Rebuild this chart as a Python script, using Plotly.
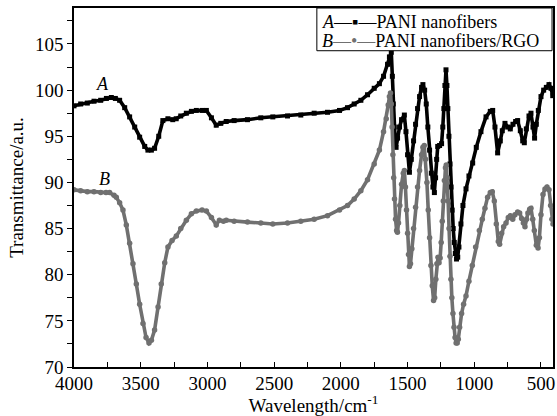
import plotly.graph_objects as go

# Series A: PANI nanofibers
wn_a = [4000, 3950, 3900, 3850, 3800, 3757, 3720, 3690, 3658, 3620, 3583, 3545, 3508, 3470, 3446, 3420, 3396,
        3365, 3334, 3296, 3260, 3234, 3200, 3158, 3120, 3083, 3040, 3008, 2970, 2934, 2900, 2859, 2800, 2700,
        2600, 2510, 2400, 2300, 2200, 2100, 2010, 1950, 1900, 1850, 1800, 1750, 1711, 1680, 1650, 1636, 1622,
        1614, 1607, 1600, 1593, 1586, 1575, 1560, 1545, 1524, 1512, 1500, 1486, 1472, 1455, 1440, 1425, 1410,
        1395, 1385, 1372, 1360, 1348, 1335, 1322, 1310, 1299, 1290, 1282, 1274, 1260, 1245, 1236, 1228, 1220,
        1212, 1205, 1198, 1190, 1182, 1174, 1166, 1158, 1150, 1142, 1133, 1124, 1115, 1100, 1085, 1062, 1040,
        1012, 985, 950, 912, 880, 862, 845, 825, 805, 790, 770, 750, 730, 710, 690, 675, 655, 637, 625, 610,
        590, 575, 560, 548, 535, 520, 500, 480, 460, 440, 425, 412]
t_a = [98.3, 98.5, 98.6, 98.8, 98.9, 99.1, 99.2, 99.1, 98.9, 98.1, 97.1, 96.0, 94.9, 93.9, 93.5, 93.5, 93.7,
       95.0, 96.7, 96.9, 96.8, 96.9, 97.2, 97.5, 97.7, 97.8, 97.8, 97.8, 97.0, 96.2, 96.4, 96.6, 96.7, 96.8,
       97.0, 97.1, 97.2, 97.3, 97.5, 97.6, 97.8, 98.1, 98.5, 98.9, 99.5, 100.2, 100.7, 101.5, 102.8, 103.6, 104.1,
       101.5, 98.5, 96.0, 94.5, 93.8, 94.8, 96.0, 96.8, 97.3, 95.5, 93.0, 91.1, 92.5, 94.5, 96.3, 98.0, 99.3,
       100.3, 100.6, 100.0, 98.5, 96.0, 93.5, 91.0, 89.5, 88.9, 90.5, 92.5, 93.9, 94.0, 94.2, 96.0, 98.0, 100.5,
       102.2, 100.5, 98.0, 95.0, 92.0, 89.5, 87.0, 85.0, 83.5, 82.3, 81.7, 81.9, 83.0, 85.5, 87.5, 89.3, 90.7,
       92.1, 93.8, 95.5, 97.1, 97.7, 97.8, 96.0, 93.2, 94.5, 95.6, 96.4, 96.0, 95.8, 96.3, 96.6, 96.7, 95.6, 94.5, 94.3, 95.8,
       97.2, 97.5, 96.0, 94.8, 96.3, 97.8, 99.3, 100.0, 100.3, 100.6, 100.2, 99.4]

# Series B: PANI nanofibers/RGO
wn_b = [4000, 3950, 3900, 3850, 3800, 3760, 3733, 3700, 3683, 3658, 3633, 3608, 3583, 3558, 3533, 3508, 3483,
        3460, 3438, 3420, 3396, 3370, 3346, 3320, 3296, 3265, 3233, 3200, 3158, 3120, 3083, 3040, 3008, 2970,
        2934, 2910, 2880, 2859, 2800, 2700, 2600, 2510, 2400, 2300, 2200, 2100, 2010, 1950, 1900, 1850, 1800,
        1750, 1711, 1680, 1660, 1645, 1636, 1628, 1622, 1616, 1610, 1604, 1598, 1590, 1582, 1576, 1568, 1558,
        1545, 1532, 1524, 1516, 1508, 1500, 1493, 1486, 1478, 1468, 1455, 1440, 1425, 1410, 1395, 1385, 1375,
        1365, 1355, 1345, 1335, 1325, 1315, 1305, 1297, 1288, 1280, 1272, 1264, 1256, 1248, 1240, 1232, 1224,
        1216, 1210, 1203, 1196, 1189, 1182, 1175, 1168, 1160, 1152, 1144, 1136, 1128, 1120, 1110, 1095, 1080,
        1062, 1040, 1015, 990, 962, 940, 920, 900, 880, 865, 850, 835, 820, 810, 795, 780, 762, 745, 730, 712,
        695, 675, 660, 645, 632, 620, 608, 598, 585, 575, 562, 550, 535, 522, 512, 500, 485, 470, 455, 440,
        428, 418, 410]
t_b = [89.2, 89.1, 89.0, 89.0, 88.9, 88.9, 88.9, 88.6, 88.4, 87.8, 87.0, 85.4, 83.4, 81.2, 79.0, 76.8, 74.7,
       73.2, 72.6, 72.9, 74.0, 76.5, 79.0, 81.3, 83.0, 83.7, 84.2, 85.0, 85.9, 86.6, 86.9, 87.0, 86.9, 86.2,
       85.4, 85.9, 85.8, 85.9, 85.8, 85.7, 85.6, 85.5, 85.6, 85.8, 86.0, 86.4, 87.0, 87.5, 88.2, 89.1, 90.3,
       92.0, 93.5, 95.5, 96.9, 98.4, 99.3, 99.7, 98.5, 96.0, 93.0, 90.5, 88.2, 86.0, 84.8, 84.6, 85.6, 87.5,
       89.8, 91.0, 91.3, 89.5, 87.0, 84.5, 82.2, 80.9, 81.2, 82.8, 85.0, 87.3, 89.5, 91.3, 93.0, 93.8, 94.0,
       92.5, 90.0, 87.0, 84.0, 81.0, 78.8, 77.2, 77.5, 79.5, 81.2, 81.9, 81.3, 81.8, 83.5, 85.8, 88.0, 90.2,
       91.6, 91.9, 90.5, 88.0, 85.0, 82.0, 79.5, 77.5, 75.8, 74.3, 73.2, 72.6, 72.6, 73.0, 74.3, 75.8, 76.8,
       77.7, 79.3, 81.0, 83.0, 84.8, 86.0, 87.2, 88.4, 88.9, 89.0, 88.0, 85.5, 83.6, 83.3, 84.5, 85.2, 85.6, 86.2, 86.4, 86.0,
       86.5, 86.8, 86.7, 86.1, 85.6, 85.2, 86.0, 86.7, 87.1, 87.2, 86.0, 84.8, 83.2, 82.9, 84.0, 86.5, 88.7, 89.3, 89.5, 89.2,
       87.5, 86.0, 85.5]

x_ticks = [4000, 3500, 3000, 2500, 2000, 1500, 1000, 500]
y_ticks = [70, 75, 80, 85, 90, 95, 100, 105]

black = "#000000"
gray = "#707070"
font_family = "Liberation Serif"

fig = go.Figure()
fig.add_trace(go.Scatter(x=wn_a, y=t_a, mode="lines+markers", name="PANI nanofibers",
                         line=dict(color=black, width=3.6),
                         marker=dict(symbol="square", size=5, color=black)))
fig.add_trace(go.Scatter(x=wn_b, y=t_b, mode="lines+markers", name="PANI nanofibers/RGO",
                         line=dict(color=gray, width=3.6),
                         marker=dict(symbol="circle", size=5.5, color=gray)))

fig.add_annotation(x=3783, y=100.7, text="<i>A</i>", showarrow=False,
                   font=dict(family=font_family, size=18, color=black))
fig.add_annotation(x=3770, y=90.4, text="<i>B</i>", showarrow=False,
                   font=dict(family=font_family, size=18, color=black))

# Legend box (drawn like the original: label, line-marker-line, name)
fig.add_shape(type="rect", xref="paper", yref="paper", x0=0.507, x1=0.998, y0=0.881, y1=1.0,
              line=dict(color=black, width=1), fillcolor="white", layer="above")
fig.add_annotation(xref="paper", yref="paper", x=0.513, y=0.960, xanchor="left", yanchor="middle",
                   text="<i>A</i>—▪—PANI nanofibers", showarrow=False,
                   font=dict(family=font_family, size=18, color=black))
fig.add_annotation(xref="paper", yref="paper", x=0.513, y=0.907, xanchor="left", yanchor="middle",
                   text="<i>B</i><span style='color:#707070'>—•—</span>PANI nanofibers/RGO", showarrow=False,
                   font=dict(family=font_family, size=18, color=black))

fig.update_layout(
    width=557, height=416,
    margin=dict(l=74, r=4, t=8, b=49, autoexpand=False),
    paper_bgcolor="white", plot_bgcolor="white",
    showlegend=False,
    font=dict(family=font_family, size=19, color=black),
)
fig.update_xaxes(
    range=[4000, 410], tickvals=x_ticks, ticks="inside", ticklen=5, tickwidth=1.3, tickcolor=black,
    minor=dict(dtick=250, ticks="inside", ticklen=5, tickwidth=1.3, tickcolor=black, showgrid=False),
    showline=True, linecolor=black, linewidth=1.5, mirror=True, showgrid=False, zeroline=False,
    title=dict(text="Wavelength/cm<sup>-1</sup>", standoff=2, font=dict(size=19)),
    tickfont=dict(size=19), automargin=False, ticklabelstandoff=-2,
)
fig.update_yaxes(
    range=[70, 108.9], tickvals=y_ticks, ticks="outside", ticklen=5, tickwidth=1.3, tickcolor=black,
    minor=dict(dtick=2.5, ticks="outside", ticklen=5, tickwidth=1.3, tickcolor=black, showgrid=False),
    showline=True, linecolor=black, linewidth=1.5, mirror=True, showgrid=False, zeroline=False,
    title=dict(text="Transmittance/a.u.", standoff=6, font=dict(size=19)),
    tickfont=dict(size=19), automargin=False,
)

fig.write_html("out.html", config={"displayModeBar": False},
               post_script="document.body.style.margin='0px';")
